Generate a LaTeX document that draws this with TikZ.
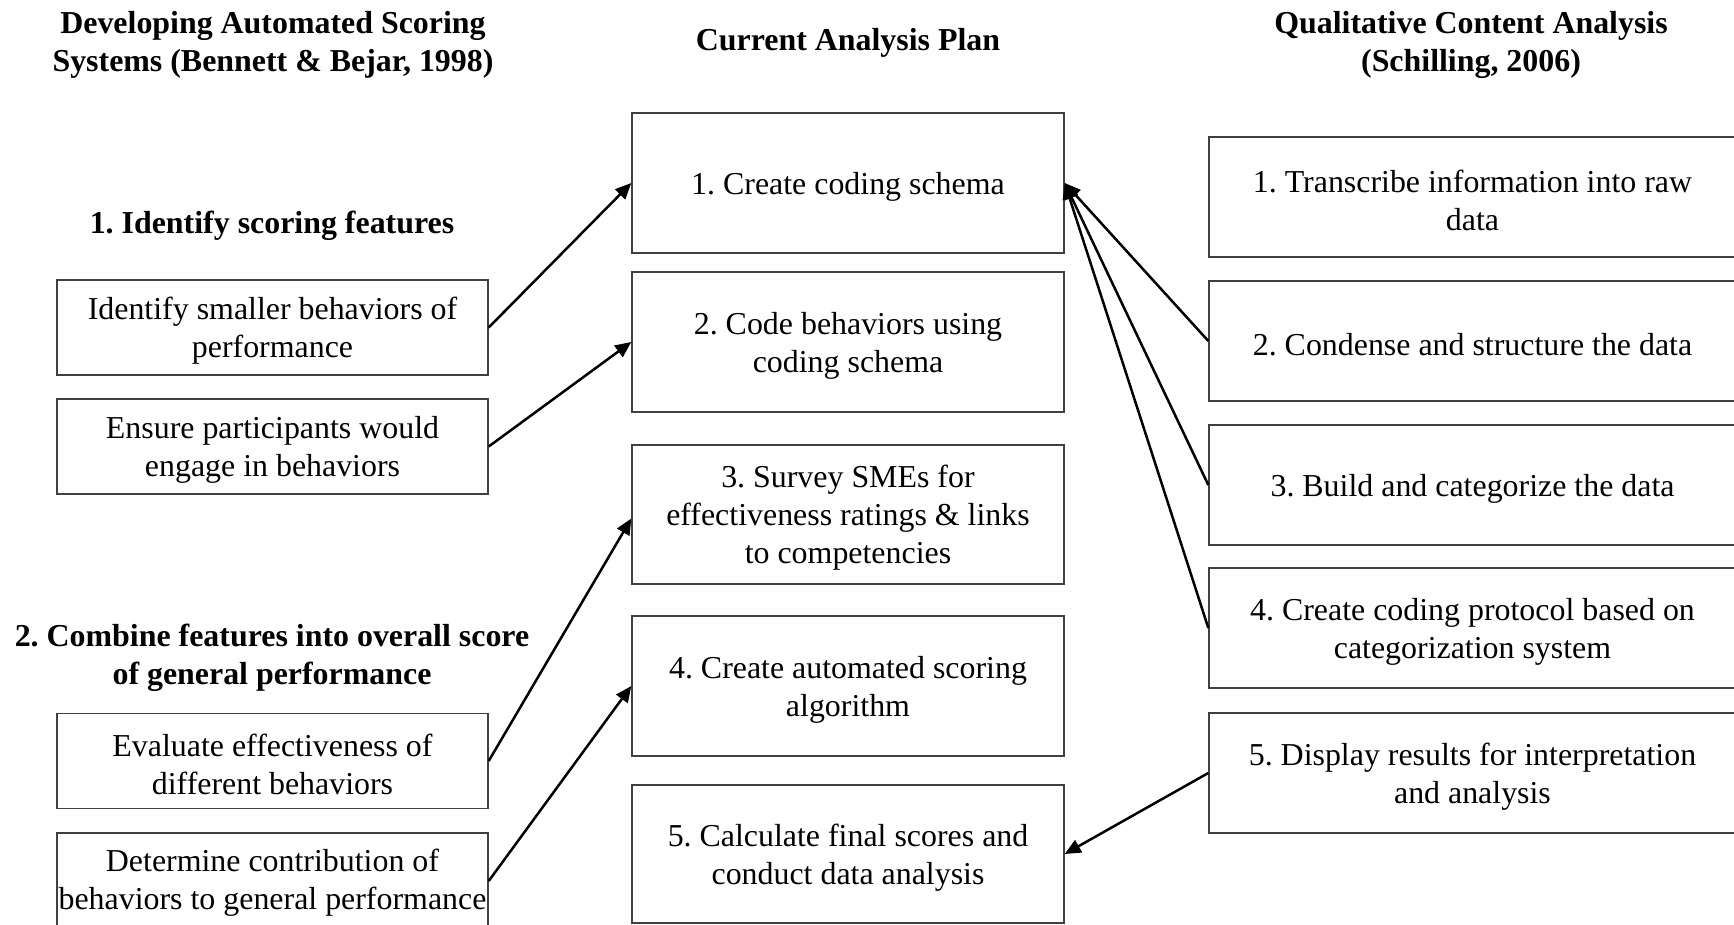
\documentclass[tikz,border=0pt]{standalone}
\usepackage{fontspec}
\setmainfont{Liberation Serif}
\usetikzlibrary{arrows.meta}
\frenchspacing
\begin{document}
\begin{tikzpicture}[x=1pt,y=-1pt,
  txt/.style={font=\fontsize{31.9}{38}\selectfont, align=center, inner sep=0pt},
  ttl/.style={txt, font=\fontsize{31.9}{38}\selectfont\bfseries, yshift=-3.5pt},
  intxt/.style={txt, yshift=-3.5pt},
  boxbase/.style={draw=black!75, line width=1.4pt, inner sep=0pt},
  lbox/.style={boxbase, minimum width=431pt, minimum height=95pt},
  mbox/.style={boxbase, minimum width=432pt, minimum height=140pt},
  rbox/.style={boxbase, minimum width=527pt, minimum height=120pt},
  arr/.style={line width=2.5pt, -{Triangle[length=16pt,width=14pt]}}
]
\useasboundingbox (0,0) rectangle (1734,925);
\fill[white] (0,0) rectangle (1734,925);

% titles
\node[ttl] (t1) at (273,41) {Developing Automated Scoring\\Systems (Bennett \& Bejar, 1998)};
\node[ttl] (t2) at (848,39) {Current Analysis Plan};
\node[ttl] (t3) at (1471,41) {Qualitative Content Analysis\\(Schilling, 2006)};

% left column
\node[ttl] (h1) at (272,222) {1. Identify scoring features};
\node[lbox, label={[intxt]center:{Identify smaller behaviors of\\performance}}] (la) at (272.5,327.5) {};
\node[lbox, label={[intxt]center:{Ensure participants would\\engage in behaviors}}] (lb) at (272.5,446.5) {};
\node[ttl] (h2) at (272,654) {2. Combine features into overall score\\of general performance};
\node[lbox, label={[intxt]center:{Evaluate effectiveness of\\different behaviors}}] (lc) at (272.5,761) {};
\node[lbox, minimum height=96pt, label={[intxt, yshift=1.5pt]center:{Determine contribution of\\behaviors to general performance}}] (ld) at (272.5,881) {};

% middle column
\node[mbox, label={[intxt]center:{1. Create coding schema}}] (m1) at (848,183) {};
\node[mbox, label={[intxt]center:{2. Code behaviors using\\coding schema}}] (m2) at (848,342) {};
\node[mbox, minimum height=139pt, label={[intxt]center:{3. Survey SMEs for\\effectiveness ratings \& links\\to competencies}}] (m3) at (848,514.5) {};
\node[mbox, label={[intxt]center:{4. Create automated scoring\\algorithm}}] (m4) at (848,686) {};
\node[mbox, minimum height=138pt, label={[intxt]center:{5. Calculate final scores and\\conduct data analysis}}] (m5) at (848,854) {};

% right column
\node[rbox, label={[intxt]center:{1. Transcribe information into raw\\data}}] (r1) at (1472.5,197) {};
\node[rbox, label={[intxt]center:{2. Condense and structure the data}}] (r2) at (1472.5,341) {};
\node[rbox, label={[intxt]center:{3. Build and categorize the data}}] (r3) at (1472.5,485) {};
\node[rbox, label={[intxt]center:{4. Create coding protocol based on\\categorization system}}] (r4) at (1472.5,628) {};
\node[rbox, label={[intxt]center:{5. Display results for interpretation\\and analysis}}] (r5) at (1472.5,773) {};

% connectors
\draw[arr] (la.east) -- (m1.west);
\draw[arr] (lb.east) -- (m2.west);
\draw[arr] (lc.east) -- ([yshift=-4pt]m3.west);
\draw[arr] (ld.east) -- (m4.west);
\draw[arr] (r2.west) -- (m1.east);
\draw[arr] (r3.west) -- (m1.east);
\draw[arr] (r4.west) -- (m1.east);
\draw[arr] (r5.west) -- (m5.east);
\end{tikzpicture}
\end{document}
